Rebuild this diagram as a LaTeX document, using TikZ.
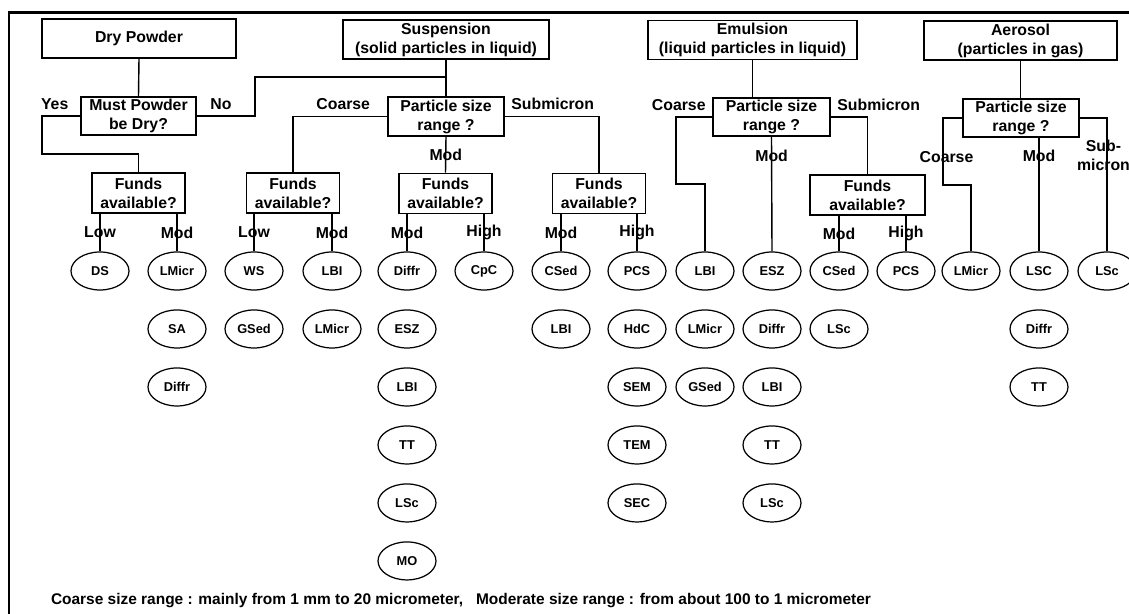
\documentclass[tikz,border=0pt]{standalone}
\usepackage{fontspec}
\setmainfont{Liberation Sans}
\usetikzlibrary{shapes.geometric}

\begin{document}
\begin{tikzpicture}[x=0.02cm,y=-0.02cm,line width=0.8pt,node distance=1.16cm,
      every node/.style={font=\bfseries\fontsize{9}{10.8}\selectfont},
      kind/.style={draw,line width=1pt,align=center,inner sep=1pt,minimum height=0.78cm},
      ask/.style={draw,line width=1pt,align=center,inner sep=1pt,minimum height=0.77cm},
      funds/.style={ask,minimum width=1.86cm,minimum height=0.8cm},
      meth/.style={ellipse,draw,line width=0.7pt,inner sep=0pt,minimum width=1.16cm,
        minimum height=0.76cm,font=\bfseries\fontsize{7.3}{8}\selectfont}]
    \useasboundingbox (0,0) rectangle (1129,614);
    % frame (left and top)
    \draw[line width=1.7pt] (9,616) -- (9,13) -- (1135,13);

    % kinds of sample
    \node[kind,minimum width=3.88cm] (dp) at (139,38.5) {Dry Powder};
    \node[kind,minimum width=4.12cm] (susp) at (446,39.5) {Suspension\\(solid particles in liquid)};
    \node[kind,minimum width=4.18cm] (emul) at (752.5,40) {Emulsion\\(liquid particles in liquid)};
    \node[kind,minimum width=3.86cm] (aero) at (1020.5,40.5) {Aerosol\\(particles in gas)};

    % questions
    \node[ask,minimum width=2.3cm] (mpd) at (138.5,116) {Must Powder\\be Dry?};
    \node[ask,minimum width=2.32cm] (ps1) at (446,116.5) {Particle size\\range ?};
    \node[ask,minimum width=2.34cm] (ps2) at (771.5,117) {Particle size\\range ?};
    \node[ask,minimum width=2.32cm] (ps3) at (1021,118) {Particle size\\range ?};
    \node[funds] (f1) at (138.5,193) {Funds\\available?};
    \node[funds] (f2) at (293,193) {Funds\\available?};
    \node[funds] (f3) at (445.5,193.5) {Funds\\available?};
    \node[funds] (f4) at (599,193.5) {Funds\\available?};
    \node[funds,minimum width=2.3cm] (f5) at (867.5,195) {Funds\\available?};

    % methods
    \node[meth] (m1a) at (100,271) {DS};
    \node[meth] (m2a) at (177,271) {LMicr};
    \node[meth] (m2b) [below of=m2a] {SA};
    \node[meth] (m2c) [below of=m2b] {Diffr};
    \node[meth] (m3a) at (254,271) {WS};
    \node[meth] (m3b) [below of=m3a] {GSed};
    \node[meth] (m4a) at (332,271) {LBI};
    \node[meth] (m4b) [below of=m4a] {LMicr};
    \node[meth] (m5a) at (407,271) {Diffr};
    \node[meth] (m5b) [below of=m5a] {ESZ};
    \node[meth] (m5c) [below of=m5b] {LBI};
    \node[meth] (m5d) [below of=m5c] {TT};
    \node[meth] (m5e) [below of=m5d] {LSc};
    \node[meth] (m5f) [below of=m5e] {MO};
    \node[meth] (m6a) at (484,271) {CpC};
    \node[meth] (m7a) at (561,271) {CSed};
    \node[meth] (m7b) [below of=m7a] {LBI};
    \node[meth] (m8a) at (637,271) {PCS};
    \node[meth] (m8b) [below of=m8a] {HdC};
    \node[meth] (m8c) [below of=m8b] {SEM};
    \node[meth] (m8d) [below of=m8c] {TEM};
    \node[meth] (m8e) [below of=m8d] {SEC};
    \node[meth] (m9a) at (705,271) {LBI};
    \node[meth] (m9b) [below of=m9a] {LMicr};
    \node[meth] (m9c) [below of=m9b] {GSed};
    \node[meth] (m10a) at (772,271) {ESZ};
    \node[meth] (m10b) [below of=m10a] {Diffr};
    \node[meth] (m10c) [below of=m10b] {LBI};
    \node[meth] (m10d) [below of=m10c] {TT};
    \node[meth] (m10e) [below of=m10d] {LSc};
    \node[meth] (m11a) at (839,271) {CSed};
    \node[meth] (m11b) [below of=m11a] {LSc};
    \node[meth] (m12a) at (906,271) {PCS};
    \node[meth] (m13a) at (971,271) {LMicr};
    \node[meth] (m14a) at (1039,271) {LSC};
    \node[meth] (m14b) [below of=m14a] {Diffr};
    \node[meth] (m14c) [below of=m14b] {TT};
    \node[meth] (m15a) at (1107,271) {LSc};

    % stems
    \draw (dp.south) -- (mpd.north);
    \draw (susp.south) -- (ps1.north);
    \draw (emul.south) -- (ps2.north -| emul.south);
    \draw (aero.south) -- (ps3.north -| aero.south);

    % dry powder
    \draw (mpd.west) node[above left,xshift=-3pt] {Yes} -| (42,154) -| (f1.north);
    \draw (mpd.east) node[above right,xshift=4pt] {No} -| (255,77) -| (ps1.north);

    % suspension
    \draw (ps1.west) node[above left,xshift=-6pt] {Coarse} -| (f2.north);
    \draw (ps1.south) -- node {Mod} (f3.north);
    \draw (ps1.east) node[above right] {Submicron} -| (f4.north);

    % emulsion
    \draw (ps2.west) node[above left] {Coarse} -| (676,184) -| (m9a.north);
    \draw (ps2.south) -- node[pos=0.16] {Mod} (m10a.north);
    \draw (ps2.east) node[above right] {Submicron} -| (f5.north);

    % aerosol
    \draw (ps3.west) -| node[pos=0.79,xshift=2pt] {Coarse} (943,185) -| (m13a.north);
    \draw (ps3.south -| m14a.north) -- node[pos=0.16] {Mod} (m14a.north);
    \draw (ps3.east) -| node[pos=0.64,align=center,xshift=-2pt] {Sub-\\micron} (m15a.north);

    % funds
    \draw (f1.south -| m1a.north) -- node {Low} (m1a.north);
    \draw (f1.south -| m2a.north) -- node {Mod} (m2a.north);
    \draw (f2.south -| m3a.north) -- node {Low} (m3a.north);
    \draw (f2.south -| m4a.north) -- node {Mod} (m4a.north);
    \draw (f3.south -| m5a.north) -- node {Mod} (m5a.north);
    \draw (f3.south -| m6a.north) -- node {High} (m6a.north);
    \draw (f4.south -| m7a.north) -- node {Mod} (m7a.north);
    \draw (f4.south -| m8a.north) -- node {High} (m8a.north);
    \draw (f5.south -| m11a.north) -- node {Mod} (m11a.north);
    \draw (f5.south -| m12a.north) -- node {High} (m12a.north);

    \node[font=\bfseries\fontsize{8.8}{10}\selectfont] (note) at (461,601)
      {Coarse size range : mainly from 1 mm to 20 micrometer,\ \ \ Moderate size range : from about 100 to 1 micrometer};
  \end{tikzpicture}
\end{document}
